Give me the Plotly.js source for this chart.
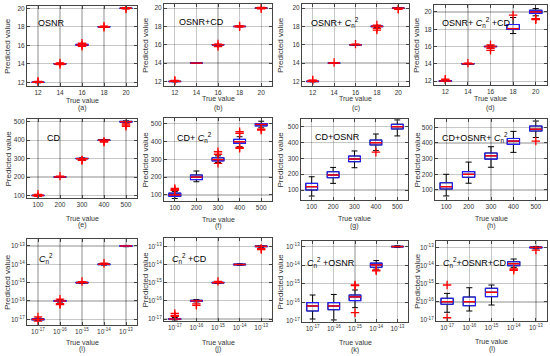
<!DOCTYPE html>
<html>
<head>
<meta charset="utf-8">
<script src="https://cdn.plot.ly/plotly-3.0.1.min.js"></script>
<style>
  html, body { margin: 0; padding: 0; background: #fff; }
  #chart { width: 550px; height: 356px; }
</style>
</head>
<body>
<div id="chart"></div>
<script>
(function() {
  'use strict';

  // ---- tick labels (true values) ----
  const osnrTicks = ['12', '14', '16', '18', '20'];
  const osnrVals = [12, 14, 16, 18, 20];
  const cdTicks = ['100', '200', '300', '400', '500'];
  const cdVals = [100, 200, 300, 400, 500];
  const cn2Ticks = ['10<sup>-17</sup>', '10<sup>-16</sup>', '10<sup>-15</sup>', '10<sup>-14</sup>', '10<sup>-13</sup>'];
  const cn2Exp = [-17, -16, -15, -14, -13];

  // ---- box statistics: lower whisker, q1, median, q3, upper whisker ----
  // (a) OSNR
  const aLow = [11.94, 13.94, 15.93, 17.95, 19.95];
  const aQ1 = [11.98, 13.98, 15.99, 17.98, 19.98];
  const aMed = [12.0, 14.0, 16.05, 18.0, 20.0];
  const aQ3 = [12.02, 14.02, 16.1, 18.02, 20.02];
  const aHigh = [12.06, 14.06, 16.18, 18.05, 20.05];
  const aOutX = [1, 1, 2, 2, 3, 3, 3, 4, 4, 5, 5];
  const aOutY = [12.1, 12.05, 13.92, 14.1, 15.88, 16.22, 16.02, 17.94, 18.06, 20.08, 19.93];
  // (b) OSNR+CD
  const bLow = [11.95, 13.96, 15.95, 17.95, 19.96];
  const bQ1 = [11.98, 13.98, 15.98, 17.98, 19.98];
  const bMed = [12.0, 14.0, 16.0, 18.0, 20.0];
  const bQ3 = [12.02, 14.02, 16.02, 18.02, 20.02];
  const bHigh = [12.05, 14.04, 16.05, 18.05, 20.05];
  const bOutX = [1, 1, 3, 3, 4, 4, 5, 5];
  const bOutY = [12.1, 12.05, 15.8, 16.08, 17.95, 18.06, 20.08, 19.93];
  // (c) OSNR+Cn2
  const cLow = [11.95, 13.96, 15.95, 17.9, 19.95];
  const cQ1 = [11.98, 13.98, 15.98, 17.97, 19.98];
  const cMed = [12.0, 14.0, 16.0, 18.0, 20.0];
  const cQ3 = [12.03, 14.02, 16.02, 18.05, 20.02];
  const cHigh = [12.06, 14.05, 16.05, 18.1, 20.05];
  const cOutX = [1, 1, 2, 3, 4, 4, 4, 5, 5];
  const cOutY = [12.1, 12.15, 14.06, 16.07, 17.6, 17.8, 18.15, 19.92, 19.87];
  // (d) OSNR+Cn2+CD
  const dLow = [11.95, 13.96, 15.93, 17.5, 19.55];
  const dQ1 = [11.98, 13.98, 15.98, 17.96, 19.81];
  const dMed = [12.0, 14.0, 16.0, 18.07, 20.0];
  const dQ3 = [12.03, 14.02, 16.03, 18.54, 20.2];
  const dHigh = [12.08, 14.05, 16.08, 19.35, 20.39];
  const dOutX = [1, 1, 2, 3, 3, 3, 4, 5, 5, 5];
  const dOutY = [12.15, 12.22, 14.08, 15.8, 15.55, 16.2, 19.62, 19.15, 19.1, 19.22];

  // (e) CD
  const eLow = [97, 197, 296, 396, 494];
  const eQ1 = [99, 199, 299, 399, 498];
  const eMed = [100, 200, 300, 400, 500];
  const eQ3 = [101, 201, 301, 401, 502];
  const eHigh = [104, 203, 304, 404, 505];
  const eOutX = [1, 1, 2, 3, 3, 4, 4, 5, 5, 5];
  const eOutY = [106, 95, 205, 290, 293, 390, 393, 482, 475, 488];
  // (f) CD+Cn2
  const fLow = [80, 174, 282, 370, 476];
  const fQ1 = [92, 186, 291, 389, 487];
  const fMed = [100, 200, 298, 398, 495];
  const fQ3 = [110, 212, 308, 411, 500];
  const fHigh = [120, 234, 319, 426, 513];
  const fOutX = [1, 1, 1, 3, 3, 3, 4, 4, 4, 4, 5, 5];
  const fOutY = [125, 130, 136, 328, 342, 277, 445, 454, 361, 366, 463, 468];
  // (g) CD+OSNR
  const gLow = [62, 142, 241, 349, 442];
  const gQ1 = [100, 178, 279, 385, 486];
  const gMed = [121, 195, 296, 399, 500];
  const gQ3 = [142, 216, 315, 416, 516];
  const gHigh = [184, 243, 347, 454, 543];
  const gOutX = [4];
  const gOutY = [339];
  // (h) CD+OSNR+Cn2
  const hLow = [62, 143, 245, 340, 435];
  const hQ1 = [106, 181, 297, 391, 476];
  const hMed = [121, 200, 318, 412, 488];
  const hQ3 = [146, 217, 336, 429, 508];
  const hHigh = [200, 278, 376, 474, 540];
  const hOutX = [5];
  const hOutY = [412];

  // row 3 values are given as log10 exponents
  // (i) Cn2
  const iLow = [-17.06, -16.06, -15.04, -14.04, -13.04];
  const iQ1 = [-17.03, -16.03, -15.02, -14.02, -13.02];
  const iMed = [-17.0, -16.0, -15.0, -14.0, -13.0];
  const iQ3 = [-16.97, -15.97, -14.98, -13.98, -12.98];
  const iHigh = [-16.93, -15.93, -14.96, -13.96, -12.97];
  const iOutX = [1, 1, 2, 2, 2, 3, 4];
  const iOutY = [-16.87, -17.1, -16.15, -16.2, -15.9, -14.94, -13.94];
  // (j) Cn2+CD
  const jLow = [-17.05, -16.06, -15.04, -14.04, -13.05];
  const jQ1 = [-17.03, -16.03, -15.02, -14.02, -13.02];
  const jMed = [-17.0, -16.0, -15.0, -14.0, -13.0];
  const jQ3 = [-16.97, -15.97, -14.98, -13.98, -12.98];
  const jHigh = [-16.92, -15.93, -14.97, -13.96, -12.97];
  const jOutX = [1, 1, 1, 2, 2, 3, 5, 5];
  const jOutY = [-16.69, -16.8, -16.86, -16.25, -16.17, -14.93, -13.12, -13.18];
  // (k) Cn2+OSNR
  const kLow = [-16.89, -16.94, -16.28, -14.21, -13.05];
  const kQ1 = [-16.46, -16.39, -15.9, -14.11, -13.02];
  const kMed = [-16.19, -16.19, -15.7, -13.98, -13.0];
  const kQ3 = [-16.01, -16.01, -15.6, -13.89, -12.98];
  const kHigh = [-15.6, -15.57, -15.33, -13.75, -12.96];
  const kOutX = [3, 3, 3, 4, 4];
  const kOutY = [-15.06, -15.1, -16.55, -14.3, -14.26];
  // (l) Cn2+OSNR+CD
  const lLow = [-16.57, -16.5, -16.17, -14.1, -13.08];
  const lQ1 = [-16.13, -16.21, -15.71, -14.01, -13.03];
  const lMed = [-15.99, -15.99, -15.47, -13.9, -13.0];
  const lQ3 = [-15.8, -15.73, -15.25, -13.79, -12.98];
  const lHigh = [-15.53, -15.22, -15.07, -13.64, -12.95];
  const lOutX = [1, 1, 4, 4, 5];
  const lOutY = [-15.07, -16.87, -14.19, -14.26, -13.15];

  const C = '<i>C</i><sub>n</sub><sup>2</sup>';

  // ---- panel geometry in pixels: [left, right, top, bottom] ----
  const W = 550, H = 356;
  const boxes = [
    [27, 137, 6, 86], [164, 272, 4, 86], [302, 409, 4, 86], [434, 547, 5, 85],
    [27, 137, 119, 198], [164, 272, 118, 201], [301, 408, 119, 200], [435, 547, 119, 200],
    [27, 137, 239, 325], [164, 272, 238, 321], [302, 408, 241, 322], [436, 547, 241, 321]
  ];
  // label (inside) left x / centre y, y-title x, x-title y, tag y
  const labelPos = [[36, 23], [177, 22], [309, 22], [440, 23], [45, 138], [175, 137], [313, 137], [440, 137], [37, 258], [170, 258], [305, 262], [441, 262]];
  const yTitleX = [8, 145, 280, 416, 8, 145, 280, 417, 7, 145, 280, 417];
  const xTitleY = [100, 99, 99, 99, 218, 219, 218, 218, 342, 342, 342, 341];
  const tagY = [108, 108, 108, 108, 225, 226, 226, 226, 349, 349, 350, 349];

  const row1 = { ticks: osnrTicks, vals: osnrVals, log: false };
  const row2 = { ticks: cdTicks, vals: cdVals, log: false };
  const row3 = { ticks: cn2Ticks, vals: cn2Exp, log: true };

  const panels = [
    { tag: '(a)', text: 'OSNR', row: row1, range: [11.6, 20.25], s: [aLow, aQ1, aMed, aQ3, aHigh], ox: aOutX, oy: aOutY },
    { tag: '(b)', text: 'OSNR+CD', row: row1, range: [11.5, 20.45], s: [bLow, bQ1, bMed, bQ3, bHigh], ox: bOutX, oy: bOutY },
    { tag: '(c)', text: 'OSNR+ ' + C, row: row1, range: [11.5, 20.45], s: [cLow, cQ1, cMed, cQ3, cHigh], ox: cOutX, oy: cOutY },
    { tag: '(d)', text: 'OSNR+ ' + C + ' +CD', row: row1, range: [11.55, 20.8], s: [dLow, dQ1, dMed, dQ3, dHigh], ox: dOutX, oy: dOutY },
    { tag: '(e)', text: 'CD', row: row2, range: [86, 515], s: [eLow, eQ1, eMed, eQ3, eHigh], ox: eOutX, oy: eOutY },
    { tag: '(f)', text: 'CD+ ' + C, row: row2, range: [66, 531], s: [fLow, fQ1, fMed, fQ3, fHigh], ox: fOutX, oy: fOutY },
    { tag: '(g)', text: 'CD+OSNR', row: row2, range: [37, 549], s: [gLow, gQ1, gMed, gQ3, gHigh], ox: gOutX, oy: gOutY },
    { tag: '(h)', text: 'CD+OSNR+ ' + C, row: row2, range: [36, 553], s: [hLow, hQ1, hMed, hQ3, hHigh], ox: hOutX, oy: hOutY },
    { tag: '(i)', text: C, row: row3, range: [-17.31, -12.62], s: [iLow, iQ1, iMed, iQ3, iHigh], ox: iOutX, oy: iOutY },
    { tag: '(j)', text: C + ' +CD', row: row3, range: [-17.11, -12.54], s: [jLow, jQ1, jMed, jQ3, jHigh], ox: jOutX, oy: jOutY },
    { tag: '(k)', text: C + ' +OSNR', row: row3, range: [-17.05, -12.7], s: [kLow, kQ1, kMed, kQ3, kHigh], ox: kOutX, oy: kOutY },
    { tag: '(l)', text: C + '+OSNR+CD', row: row3, range: [-17.05, -12.65], s: [lLow, lQ1, lMed, lQ3, lHigh], ox: lOutX, oy: lOutY }
  ];

  const pos = [1, 2, 3, 4, 5];
  const font = 'Liberation Sans, Arial, sans-serif';
  const traces = [];
  const layout = {
    width: W, height: H,
    margin: { l: 0, r: 0, t: 0, b: 0 },
    paper_bgcolor: '#fff', plot_bgcolor: '#fff',
    showlegend: false, boxmode: 'overlay',
    font: { family: font, size: 6.5, color: '#333' },
    annotations: []
  };

  panels.forEach((p, i) => {
    const n = i === 0 ? '' : String(i + 1);
    const xa = 'x' + n, ya = 'y' + n;
    const conv = p.row.log ? (arr => arr.map(v => Math.pow(10, v))) : (arr => arr);
    const [lo, q1, med, q3, hi] = p.s.map(conv);

    // whiskers (black)
    traces.push({
      type: 'box', x: pos, q1: q1, median: med, q3: q3, lowerfence: lo, upperfence: hi,
      width: 0.55, whiskerwidth: 0.5, boxpoints: false,
      line: { color: '#000', width: 1 }, fillcolor: 'rgba(0,0,0,0)',
      hoverinfo: 'skip', xaxis: xa, yaxis: ya
    });
    // box (blue)
    traces.push({
      type: 'box', x: pos, q1: q1, median: med, q3: q3, lowerfence: q1, upperfence: q3,
      width: 0.55, boxpoints: false,
      line: { color: '#1f1fff', width: 1.1 }, fillcolor: 'rgba(0,0,0,0)',
      hoverinfo: 'skip', xaxis: xa, yaxis: ya
    });
    // median (red)
    traces.push({
      type: 'scatter', mode: 'markers', x: pos, y: med,
      marker: { symbol: 'line-ew', size: 8.5, line: { color: '#ff0000', width: 1.4 } },
      hoverinfo: 'skip', xaxis: xa, yaxis: ya
    });
    // outliers (red +)
    traces.push({
      type: 'scatter', mode: 'markers', x: p.ox, y: conv(p.oy),
      marker: { symbol: 'cross-thin-open', size: 6, color: '#ff0000', line: { color: '#ff0000', width: 1.3 } },
      hoverinfo: 'skip', xaxis: xa, yaxis: ya
    });

    const b = boxes[i];
    const common = {
      showgrid: true, gridcolor: 'rgba(0,0,0,0.22)', gridwidth: 1.2,
      showline: true, linecolor: '#444', linewidth: 1, mirror: 'ticks',
      ticks: 'inside', ticklen: 3, tickcolor: '#444', zeroline: false,
      fixedrange: true, tickfont: { family: font, size: 6.5, color: '#333' }
    };
    layout['xaxis' + n] = Object.assign({}, common, {
      domain: [b[0] / W, b[1] / W], anchor: ya,
      range: [0.5, 5.5], tickmode: 'array', tickvals: pos, ticktext: p.row.ticks
    });
    const yv = p.row.vals;
    layout['yaxis' + n] = Object.assign({}, common, {
      domain: [1 - b[3] / H, 1 - b[2] / H], anchor: xa,
      type: p.row.log ? 'log' : 'linear',
      range: p.range, tickmode: 'array',
      tickvals: p.row.log ? yv.map(v => Math.pow(10, v)) : yv, ticktext: p.row.ticks
    });

    const cx = (b[0] + b[1]) / 2 / W;
    layout.annotations.push(
      { text: p.text, xref: 'paper', yref: 'paper', x: labelPos[i][0] / W, y: 1 - labelPos[i][1] / H,
        xanchor: 'left', yanchor: 'middle', showarrow: false, font: { family: font, size: 9, color: '#000' } },
      { text: 'Predicted value', xref: 'paper', yref: 'paper', x: yTitleX[i] / W, y: 1 - (b[2] + b[3]) / 2 / H,
        textangle: -90, xanchor: 'center', yanchor: 'middle', showarrow: false, font: { family: font, size: 8, color: '#333' } },
      { text: 'True value', xref: 'paper', yref: 'paper', x: cx, y: 1 - xTitleY[i] / H,
        xanchor: 'center', yanchor: 'middle', showarrow: false, font: { family: font, size: 7, color: '#333' } },
      { text: p.tag, xref: 'paper', yref: 'paper', x: cx, y: 1 - tagY[i] / H,
        xanchor: 'center', yanchor: 'middle', showarrow: false, font: { family: font, size: 7, color: '#333' } }
    );
  });

  Plotly.newPlot('chart', traces, layout, { displayModeBar: false, staticPlot: true });
})();
</script>
</body>
</html>
